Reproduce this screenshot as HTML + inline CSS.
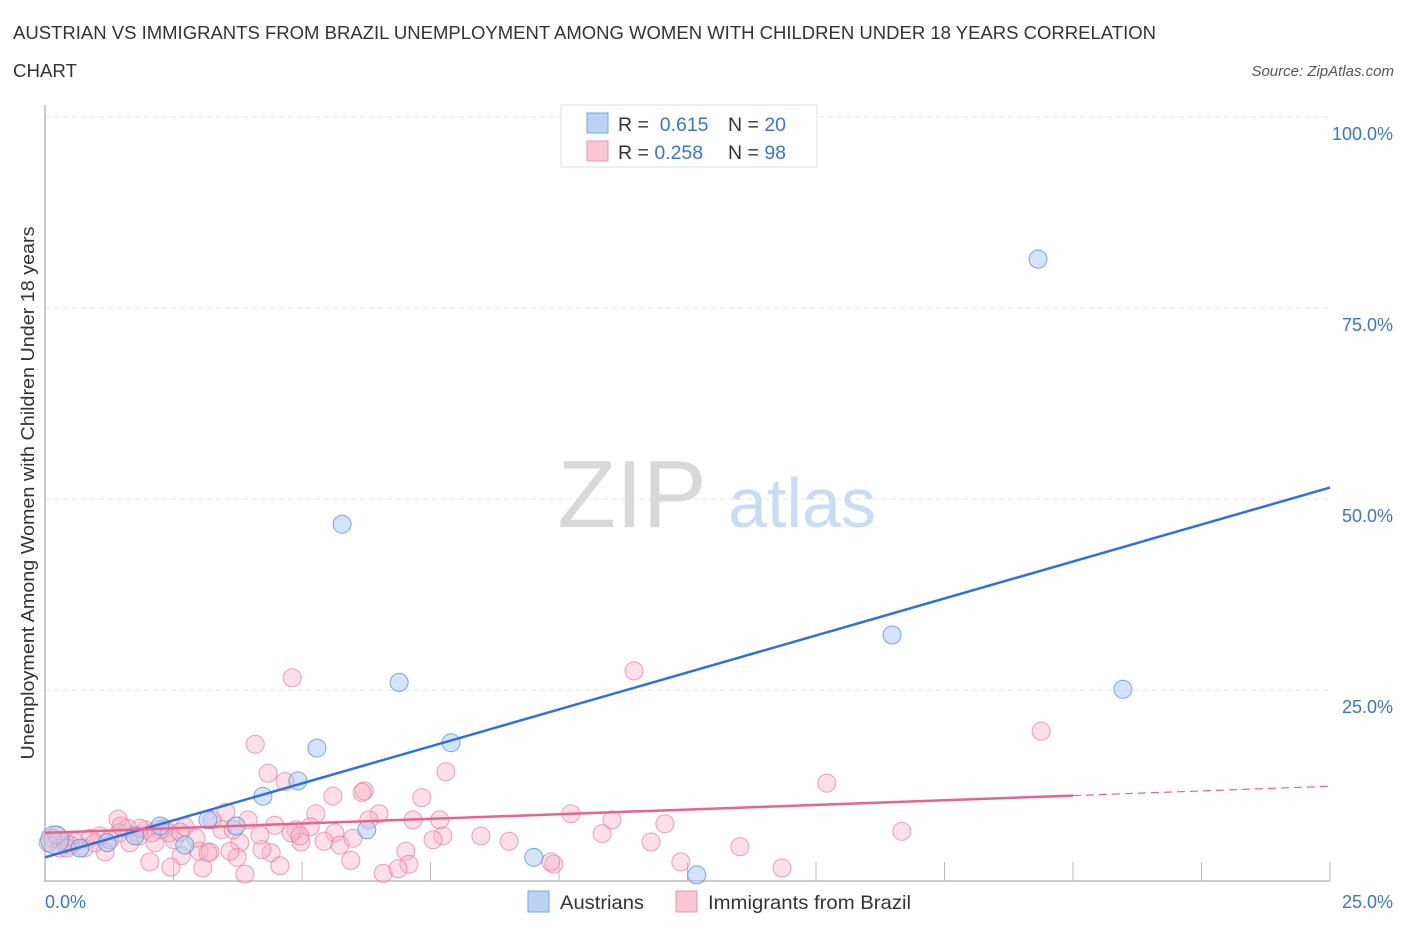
<!DOCTYPE html>
<html><head><meta charset="utf-8"><style>
body{margin:0;background:#fff;font-family:"Liberation Sans",sans-serif;}
svg text{font-family:"Liberation Sans",sans-serif;}
</style></head><body>
<svg id="chart" width="1406" height="930" xmlns="http://www.w3.org/2000/svg">
<text x="13" y="39" font-size="18" fill="#333" textLength="1143" lengthAdjust="spacingAndGlyphs">AUSTRIAN VS IMMIGRANTS FROM BRAZIL UNEMPLOYMENT AMONG WOMEN WITH CHILDREN UNDER 18 YEARS CORRELATION</text>
<text x="13" y="77" font-size="18" fill="#333" textLength="64" lengthAdjust="spacingAndGlyphs">CHART</text>
<text x="1394" y="76" font-size="15" fill="#555" font-style="italic" text-anchor="end">Source: ZipAtlas.com</text>
<g id="grid"></g>
<g>
<text x="632" y="527" font-size="96" fill="#d8d8d8" font-family="Liberation Serif" text-anchor="middle">ZIP</text>
<text x="802" y="527" font-size="70" fill="#c8dcf2" text-anchor="middle">atlas</text>
</g>
<g id="axes"></g>
<g id="marks"></g>
<text transform="translate(34,493) rotate(-90)" font-size="18" fill="#333" text-anchor="middle" textLength="533" lengthAdjust="spacingAndGlyphs">Unemployment Among Women with Children Under 18 years</text>
<g>
<rect x="561" y="105" width="256" height="62" fill="#fff" stroke="#ddd"/>
<rect x="587" y="113" width="21" height="20" fill="#b9d3f5" stroke="#7aa7e0"/>
<rect x="587" y="141" width="21" height="20" fill="#f9c6d4" stroke="#e995ad"/>
<text x="618" y="131" font-size="19.5" fill="#333">R = <tspan fill="#3a74d0">&#160;0.615</tspan></text>
<text x="728" y="131" font-size="19.5" fill="#333">N = <tspan fill="#3a74d0">20</tspan></text>
<text x="618" y="159" font-size="19.5" fill="#333">R = <tspan fill="#3a74d0">0.258</tspan></text>
<text x="728" y="159" font-size="19.5" fill="#333">N = <tspan fill="#3a74d0">98</tspan></text>
</g>
<g>
<rect x="528" y="891" width="21" height="21" fill="#b9d3f5" stroke="#7aa7e0"/>
<text x="560" y="909" font-size="19.5" fill="#333" textLength="84" lengthAdjust="spacingAndGlyphs">Austrians</text>
<rect x="676" y="891" width="21" height="21" fill="#f9c6d4" stroke="#e995ad"/>
<text x="708" y="909" font-size="19.5" fill="#333" textLength="203" lengthAdjust="spacingAndGlyphs">Immigrants from Brazil</text>
</g>
</svg>
<script>
const yTicks=[25,50,75,100];
const yTickLabels=["25.0%","50.0%","75.0%","100.0%"];
const xTickLabels=["0.0%","25.0%"];
const austriansX=[0.19,19.32,5.78,16.48,20.97,6.89,5.29,7.90,4.24,3.17,3.72,4.92,6.26,9.51,12.68,2.72,1.21,2.24,0.68,1.75];
const austriansY=[5.37,81.4,46.7,32.2,25.1,26.0,17.4,18.1,11.1,8.0,7.2,13.1,6.7,3.1,0.8,4.7,5.0,7.2,4.3,5.9];
const brazilX=[4.81,11.46,19.38,4.09,7.80,4.34,4.67,6.21,5.60,7.33,15.21,6.50,5.27,10.23,3.52,3.95,3.25,4.47,4.88,5.16,5.64,6.17,6.30,7.16,7.68,8.48,9.03,10.84,11.03,12.06,11.79,13.52,16.67,7.74,4.98,3.79,4.40,3.74,3.00,3.21,2.65,2.04,2.45,3.07,4.57,5.95,7.02,7.08,6.58,6.87,3.89,9.90,9.84,12.37,14.34,1.42,1.61,1.96,2.32,2.72,2.94,3.44,2.51,2.14,1.83,1.44,1.07,0.88,0.58,0.39,0.14,0.29,0.49,0.76,1.17,1.65,2.24,2.41,0.06,1.26,5.74,5.43,3.60,4.22,4.79,2.63,0.23,0.97,1.48,3.17,0.43,1.85,2.08,4.96,5.99,7.55,4.18,3.66];
const brazilY=[26.6,27.5,19.6,17.9,14.3,14.1,13.0,11.8,11.1,10.9,12.8,8.8,8.8,8.8,9.0,8.0,8.0,7.3,6.7,7.1,6.3,11.6,8.0,8.0,8.0,5.9,5.2,6.2,8.0,7.5,5.1,4.5,6.5,5.9,5.1,5.0,3.7,3.1,3.9,3.8,3.3,2.5,1.8,1.7,2.0,2.7,3.9,2.2,1.0,1.6,0.9,2.2,2.5,2.5,1.7,8.1,6.9,6.7,6.9,7.1,5.6,6.7,5.4,5.0,5.9,6.3,5.9,5.6,5.1,5.1,5.6,4.3,4.7,4.3,3.8,5.0,6.7,6.3,5.0,5.4,4.7,5.2,3.9,4.1,6.3,6.4,6.0,5.0,7.2,3.7,4.3,6.9,6.3,5.9,5.6,5.4,6.0,6.7];
const austriansTrend=[3.1,51.5];
const brazilTrend=[6.3,12.4];
const NS="http://www.w3.org/2000/svg";
const X=v=>45+v*51.4, Y=v=>881-v*7.64;
function mk(tag,attrs,parent){const e=document.createElementNS(NS,tag);for(const k in attrs)e.setAttribute(k,attrs[k]);parent.appendChild(e);return e;}
const grid=document.getElementById('grid'),axes=document.getElementById('axes'),marks=document.getElementById('marks');
yTicks.forEach((t,i)=>{
 const l=mk('line',{x1:45,x2:1330,y1:Y(t),y2:Y(t),stroke:'#e4e4e4','stroke-dasharray':'5,4'},grid);
 
 
 const tx=mk('text',{x:1393,y:Y(t)+23,'font-size':18,fill:'#3a74d0','text-anchor':'end'},axes);
 tx.textContent=yTickLabels[i];
 
 
});
const ya=mk('line',{x1:45,x2:45,y1:105,y2:882,stroke:'#bbb','stroke-width':1.5},axes);


const xa=mk('line',{x1:44,x2:1330,y1:881,y2:881,stroke:'#bbb','stroke-width':1.5},axes);


for(let i=1;i<=10;i++){const t=mk('line',{x1:X(i*2.5),x2:X(i*2.5),y1:862,y2:881,stroke:'#bbb'},axes);
 
 }
[[0,45,'start'],[25,1393,'end']].forEach((d,i)=>{const t=mk('text',{x:d[1],y:908,'font-size':18,fill:'#3a74d0','text-anchor':d[2]},axes);t.textContent=xTickLabels[i];
 
 });
brazilX.forEach((x,i)=>{const c=mk('circle',{cx:X(x),cy:Y(brazilY[i]),r:9,fill:'rgba(248,175,198,0.4)',stroke:'rgba(230,120,155,0.7)','stroke-width':1},marks);
 
 });
austriansX.forEach((x,i)=>{const c=mk('circle',{cx:X(x),cy:Y(austriansY[i]),r:i===0?14:9,fill:'rgba(170,200,240,0.5)',stroke:'rgba(90,145,215,0.8)','stroke-width':1},marks);
 
 });
const bt=mk('line',{x1:X(0),y1:Y(austriansTrend[0]),x2:X(25),y2:Y(austriansTrend[1]),stroke:'#2d72d9','stroke-width':2.5},marks);


const py=v=>brazilTrend[0]+(brazilTrend[1]-brazilTrend[0])*v/25;
const pt=mk('line',{x1:X(0),y1:Y(py(0)),x2:X(20),y2:Y(py(20)),stroke:'#e8638f','stroke-width':2.5},marks);


const pd=mk('line',{x1:X(20),y1:Y(py(20)),x2:X(25),y2:Y(py(25)),stroke:'#e8638f','stroke-width':1.2,'stroke-dasharray':'8,5'},marks);


</script>
</body></html>
